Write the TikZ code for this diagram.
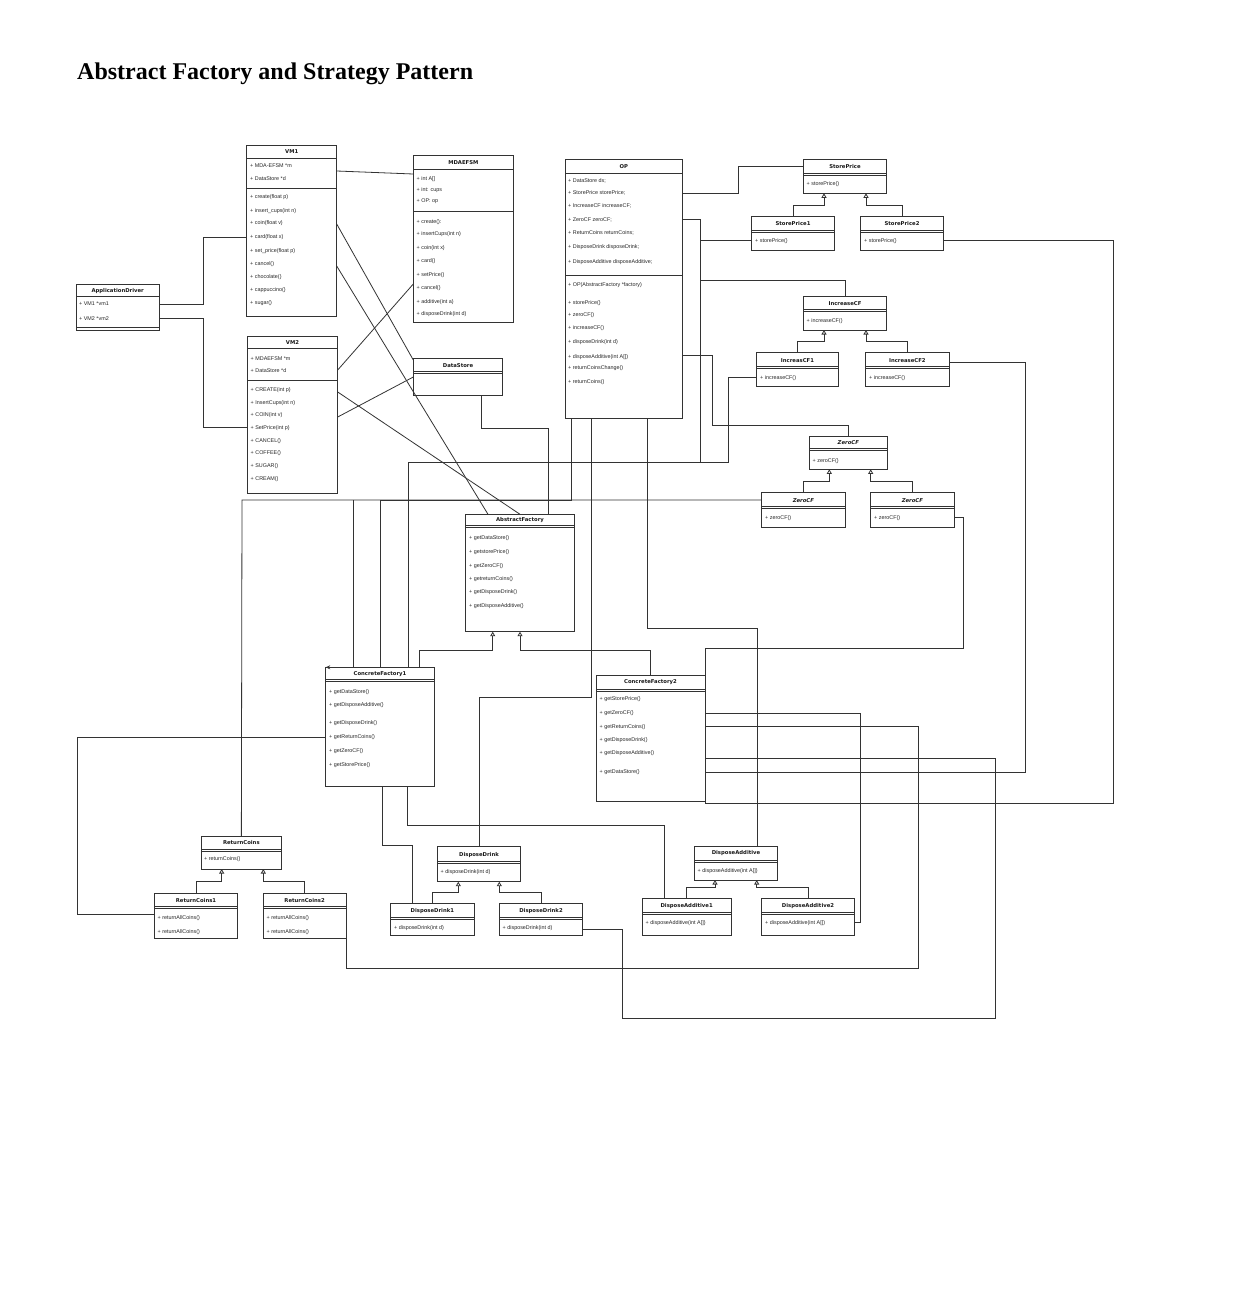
\documentclass[tikz,border=0pt]{standalone}
\usepackage{fontspec}
\setmainfont{Liberation Serif}
\newfontfamily\itmfont{Liberation Sans}
\newfontfamily\ttlfont{DejaVu Sans}
\usetikzlibrary{arrows.meta}
\tikzset{
 clsbox/.style={draw=black!80, line width=0.8pt, inner sep=0pt, outer sep=0pt, anchor=north west},
 clstitle/.style={inner sep=0pt, font=\ttlfont\bfseries\fontsize{5.3}{6}\selectfont, text=black!90},
 itm/.style={anchor=west, inner sep=0pt, font=\itmfont\fontsize{5.4}{6}\selectfont, text=black!85},
 sepline/.style={draw=black!80, line width=0.8pt},
 conn/.style={draw=black!80, line width=0.8pt},
 inh/.style={conn, -{Triangle[open, length=4.5pt, width=5pt]}},
 tipconn/.style={conn, -{Stealth[length=4.5pt, width=4pt]}},
}
\newcommand\umlcls[8]{%
  \node[clsbox, minimum width={#4-#2}, minimum height={#5-#3}] (#1) at (#2,#3) {};
  \node[clstitle] (#1-title) at ({(#2+#4)/2},{(#3+#7)/2+0.5}) {#6};
  \draw[sepline] (#2,#7) -- (#4,#7);
  \ifnum#8=1 \draw[sepline] (#2,#7+2) -- (#4,#7+2);\fi
}
\newcommand\umlitems[3]{\foreach \iy/\itxt [count=\k] in {#3} {\node[itm] (#1-\k) at (#2,\iy) {\itxt};}}
\begin{document}
\begin{tikzpicture}[x=1pt,y=-1pt]
\fill[white] (0,0) rectangle (1234,1298);
\useasboundingbox (0,0) rectangle (1234,1298);
\node[anchor=base west, inner sep=0pt, font=\bfseries\fontsize{24}{28}\selectfont] (title) at (77,80) {Abstract Factory and Strategy Pattern};

% ---------- classes ----------
\umlcls{ad}{76}{284.3}{159.3}{330.7}{ApplicationDriver}{296.7}{0}
\umlitems{ad}{79}{304/{+ VM1 *vm1},318.5/{+ VM2 *vm2}}
\draw[sepline] (76,327.5) -- (159.3,327.5);

\umlcls{vm1}{246.7}{145}{336.7}{316}{VM1}{158}{0}
\draw[sepline] (246.7,188) -- (336.7,188);
\umlitems{vm1}{250}{166/{+ MDA-EFSM *m},178.7/{+ DataStore *d},197.3/{+ create(float p)},210.7/{+ insert\_cups(int n)},223.3/{+ coin(float v)},237.3/{+ card(float x)},250.7/{+ set\_price(float p)},264/{+ cancel()},276.7/{+ chocolate()},290/{+ cappuccino()},303.3/{+ sugar()}}

\umlcls{vm2}{247.3}{336.7}{337.7}{493.3}{VM2}{348}{0}
\draw[sepline] (247.3,380) -- (337.7,380);
\umlitems{vm2}{250.5}{358.3/{+ MDAEFSM *m},370.7/{+ DataStore *d},390/{+ CREATE(int p)},402.7/{+ InsertCups(int n)},415.3/{+ COIN(int v)},428/{+ SetPrice(int p)},440.7/{+ CANCEL()},453.3/{+ COFFEE()},466/{+ SUGAR()},478.7/{+ CREAM()}}

\umlcls{md}{413.3}{155}{513.3}{322.3}{MDAEFSM}{169.3}{0}
\draw[sepline] (413.3,211.7) -- (513.3,211.7);
\umlitems{md}{416.5}{179/{+ int A[]},190/{+ int: cups},201/{+ OP: op},221.7/{+ create():},234.3/{+ insertCups(int n)},247.7/{+ coin(int x)},261/{+ card()},275/{+ setPrice()},288.3/{+ cancel()},301.7/{+ additive(int a)},314.3/{+ disposeDrink(int d)}}

\umlcls{ds}{413.3}{358.3}{502.7}{395}{DataStore}{371.7}{1}

\umlcls{op}{565}{159.3}{682.7}{418}{OP}{173.3}{0}
\draw[sepline] (565,275) -- (682.7,275);
\umlitems{op}{568}{181/{+ DataStore ds;},193.3/{+ StorePrice storePrice;},206/{+ IncreaseCF increaseCF;},220/{+ ZeroCF zeroCF;},233.3/{+ ReturnCoins returnCoins;},246.7/{+ DisposeDrink disposeDrink;},261.7/{+ DisposeAdditive disposeAdditive;},285/{+ OP(AbstractFactory *factory)},303.3/{+ storePrice()},315/{+ zeroCF()},328.3/{+ increaseCF()},342.3/{+ disposeDrink(int d)},356.7/{+ disposeAdditive(int A[])},368.3/{+ returnCoinsChange()},381.7/{+ returnCoins()}}

\umlcls{sp}{803.3}{159.3}{886.7}{193.3}{StorePrice}{173.3}{1}
\umlitems{sp}{806.5}{184.3/{+ storePrice()}}
\umlcls{sp1}{751.7}{216}{834.3}{250}{StorePrice1}{230}{1}
\umlitems{sp1}{755}{240.7/{+ storePrice()}}
\umlcls{sp2}{860.7}{216}{943.3}{250}{StorePrice2}{230}{1}
\umlitems{sp2}{864}{240.7/{+ storePrice()}}

\umlcls{icf}{803.3}{296}{886.7}{330}{IncreaseCF}{309.3}{1}
\umlitems{icf}{806.5}{320.7/{+ increaseCF()}}
\umlcls{icf1}{756.7}{352.7}{838.3}{386.7}{IncreasCF1}{366.7}{1}
\umlitems{icf1}{760}{377.7/{+ increaseCF()}}
\umlcls{icf2}{865.7}{352.7}{949}{386.7}{IncreaseCF2}{366.7}{1}
\umlitems{icf2}{869}{377.7/{+ increaseCF()}}

\umlcls{zcf}{809.3}{436}{887.3}{469.3}{\itshape ZeroCF}{448.3}{1}
\umlitems{zcf}{812.5}{460.7/{+ zeroCF()}}
\umlcls{zcf1}{761.7}{492.7}{845}{527.3}{\itshape ZeroCF}{506.7}{1}
\umlitems{zcf1}{765}{518.3/{+ zeroCF()}}
\umlcls{zcf2}{870.7}{492.7}{954}{527.3}{\itshape ZeroCF}{506.7}{1}
\umlitems{zcf2}{874}{518.3/{+ zeroCF()}}

\umlcls{af}{465.7}{514.3}{574.3}{631.7}{AbstractFactory}{525.7}{1}
\umlitems{af}{469}{538.3/{+ getDataStore()},552.3/{+ getstorePrice()},565.7/{+ getZeroCF()},579/{+ getreturnCoins()},592.3/{+ getDisposeDrink()},605.7/{+ getDisposeAdditive()}}

\umlcls{cf1}{325.7}{667.3}{434.3}{786.7}{ConcreteFactory1}{679.3}{1}
\umlitems{cf1}{329}{692.3/{+ getDataStore()},705/{+ getDisposeAdditive()},723.3/{+ getDisposeDrink()},737.3/{+ getReturnCoins()},750.7/{+ getZeroCF()},765/{+ getStorePrice()}}

\umlcls{cf2}{596}{675}{705}{801.7}{ConcreteFactory2}{689}{1}
\umlitems{cf2}{599.5}{699.3/{+ getStorePrice()},713.3/{+ getZeroCF()},726.7/{+ getReturnCoins()},740/{+ getDisposeDrink()},753.3/{+ getDisposeAdditive()},772.3/{+ getDataStore()}}

\umlcls{rc}{201}{836}{281.7}{869}{ReturnCoins}{849}{1}
\umlitems{rc}{204}{859.5/{+ returnCoins()}}
\umlcls{rc1}{154.3}{893.3}{237.7}{938.3}{ReturnCoins1}{906}{1}
\umlitems{rc1}{157.5}{917.7/{+ returnAllCoins()},931.7/{+ returnAllCoins()}}
\umlcls{rc2}{263.3}{893.3}{346}{938.3}{ReturnCoins2}{906}{1}
\umlitems{rc2}{266.5}{917.7/{+ returnAllCoins()},931.7/{+ returnAllCoins()}}

\umlcls{dd}{437.3}{846.7}{520.7}{881.7}{DisposeDrink}{861.7}{1}
\umlitems{dd}{440.5}{872/{+ disposeDrink(int d)}}
\umlcls{dd1}{390.7}{903.3}{474}{935}{DisposeDrink1}{917.7}{1}
\umlitems{dd1}{394}{928.3/{+ disposeDrink(int d)}}
\umlcls{dd2}{499.3}{903.3}{582.7}{935}{DisposeDrink2}{917.7}{1}
\umlitems{dd2}{502.5}{928.3/{+ disposeDrink(int d)}}

\umlcls{da}{694.3}{846}{777.7}{880}{DisposeAdditive}{860}{1}
\umlitems{da}{697.5}{871/{+ disposeAdditive(int A[])}}
\umlcls{da1}{642.3}{898.3}{731}{935}{DisposeAdditive1}{912.7}{1}
\umlitems{da1}{645.5}{923.3/{+ disposeAdditive(int A[])}}
\umlcls{da2}{761.7}{898.3}{854.3}{935}{DisposeAdditive2}{912.7}{1}
\umlitems{da2}{765}{923.3/{+ disposeAdditive(int A[])}}

% ---------- inheritance ----------
\draw[inh] (sp1.north) |- (824,205) -- (sp.south -| 824,0);
\draw[inh] (sp2.north) |- (866,205) -- (sp.south -| 866,0);
\draw[inh] (icf1.north) |- (824,341.7) -- (icf.south -| 824,0);
\draw[inh] (icf2.north) |- (866,341.7) -- (icf.south -| 866,0);
\draw[inh] (zcf1.north) |- (829.3,481.7) -- (zcf.south -| 829.3,0);
\draw[inh] (zcf2.north) |- (870.7,481.7) -- (zcf.south -| 870.7,0);
\draw[inh] (rc1.north) |- (221.7,881.7) -- (rc.south -| 221.7,0);
\draw[inh] (rc2.north) |- (263.3,881.7) -- (rc.south -| 263.3,0);
\draw[inh] (dd1.north) |- (458.3,892.3) -- (dd.south -| 458.3,0);
\draw[inh] (dd2.north) |- (499.3,892.3) -- (dd.south -| 499.3,0);
\draw[inh] (da1.north) |- (715,887.7) -- (da.south -| 715,0);
\draw[inh] (da2.north) |- (756.7,887.7) -- (da.south -| 756.7,0);
\draw[inh] (cf1.north -| 419,0) -- (419,650) -| (af.south -| 492.7,0);
\draw[inh] (cf2.north -| 650,0) -- (650,650) -| (af.south -| 520,0);

% ---------- associations ----------
\draw[conn] (ad.east |- 0,304) -- (203,304) |- (vm1.west |- 0,237.3);
\draw[conn] (ad.east |- 0,318.5) -- (203,318.5) |- (vm2.west |- 0,427);
\draw[conn] (vm1.east |- 0,171) -- (md.west |- 0,174);
\draw[conn] (vm1.east |- 0,224) -- (ds.west |- 0,360);
\draw[conn] (vm1.east |- 0,266) -- (af.north -| 488,0);
\draw[conn] (vm2.east |- 0,370) -- (md.west |- 0,284);
\draw[conn] (vm2.east |- 0,392) -- (af.north -| 520,0);
\draw[conn] (vm2.east |- 0,417) -- (ds.west |- 0,377);
\draw[conn] (ds.south -| 481,0) -- (481,428) -| (af.north -| 548,0);

\draw[conn] (op.east |- 0,193.3) -- (738,193.3) |- (sp.west |- 0,166);
\draw[conn] (op.east |- 0,219) -- (700,219) -- (700,280) -| (icf.north);
\draw[conn] (sp1.west |- 0,240.7) -- (700,240.7) -- (700,462) -| (cf1.north -| 408,0);
\draw[conn] (op.east |- 0,355) -- (712,355) -- (712,425) -| (zcf.north);
\draw[conn] (icf1.west |- 0,377.7) -- (728,377.7) -- (728,462) -| (cf1.north -| 408,0);

\draw[conn] (zcf1.west |- 0,500) -- (242,500) -- (rc.north);
\draw[conn] (op.south -| 571,0) -- (571,500) -- (380,500) -- (cf1.north -| 380,0);
\draw[tipconn] (353,500) -- (cf1.north -| 353,0) -- (cf1.north west);
\draw[conn] (op.south -| 591,0) -- (591,697) -| (dd.north);
\draw[conn] (op.south -| 647,0) -- (647,628) -| (da.north -| 757,0);

\draw[conn] (cf1.west |- 0,737.3) -- (77,737.3) |- (rc1.west |- 0,914.3);
\draw[conn] (cf1.south -| 382,0) -- (382,845) -| (dd1.north -| 412,0);
\draw[conn] (cf1.south -| 407,0) -- (407,825) -| (da1.north -| 664,0);

\draw[conn] (cf2.east |- 0,713.3) -- (860,713.3) |- (da2.east |- 0,922.3);
\draw[conn] (cf2.east |- 0,726.7) -- (918,726.7) -- (918,968) -| (rc2.south east);
\draw[conn] (cf2.east |- 0,758) -- (995,758) -- (995,1018) -- (622,1018) |- (dd2.east |- 0,929);
\draw[conn] (cf2.east |- 0,772.3) -- (1025,772.3) |- (icf2.east |- 0,362);
\draw[conn] (zcf2.east |- 0,517) -- (963,517) -- (963,648) -- (705,648) -- (cf2.north east);
\draw[conn] (sp2.east |- 0,240.7) -- (1113,240.7) -- (1113,803.5) -- (705,803.5) -- (cf2.south east);
\end{tikzpicture}
\end{document}
